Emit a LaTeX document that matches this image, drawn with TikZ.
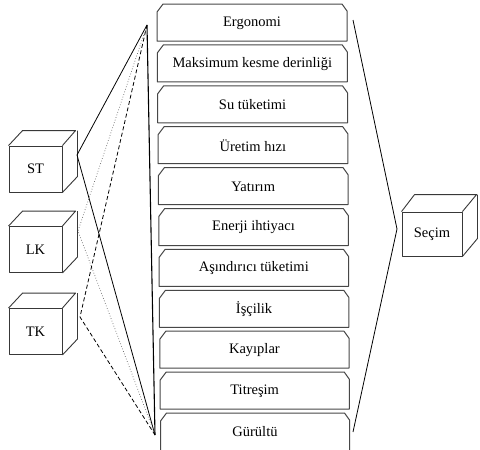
\documentclass[tikz,border=0pt]{standalone}
\usepackage{fontspec}
\setmainfont{Liberation Serif}
\begin{document}
\begin{tikzpicture}[x=1pt,y=-1pt,
  lbl/.style={font=\fontsize{14.5}{17}\selectfont, inner sep=0pt},
  boxline/.style={draw=black!72, line width=1pt, line join=round},
  cubeline/.style={draw=black!78, line width=0.9pt, line join=round},
  front/.style={lbl, cubeline, minimum width=53pt, minimum height=46pt},
  fan/.style={draw=black, line width=0.8pt},
  fandot/.style={draw=black!60, line width=0.7pt, dotted},
  fandash/.style={draw=black, line width=0.8pt, dash pattern=on 4pt off 2.5pt}]
\clip (0,0) rectangle (480,450);
\fill[white] (0,0) rectangle (480,450);

% criteria column: boxes with bevelled upper corners
\foreach \t [count=\k from 0] in {Ergonomi, Maksimum kesme derinliği, Su tüketimi,
  Üretim hızı, Yatırım, Enerji ihtiyacı, Aşındırıcı tüketimi, İşçilik,
  Kayıplar, Titreşim, Gürültü} {
  \pgfmathsetmacro\btop{4+40.9*\k}
  \pgfmathsetmacro\bl{157+0.35*\k}
  \pgfmathsetmacro\br{347+0.25*\k}
  \pgfmathsetmacro\bh{\k==10 ? 60 : 37}
  \node[lbl] (c\k) at ({(\bl+\br)/2},{\btop+19}) {\t};
  \draw[boxline] (\bl,\btop+\bh) -- (\bl,\btop+8) -- (\bl+6,\btop) -- (\br-5,\btop)
    -- (\br,\btop+7) -- (\br,\btop+\bh) -- cycle;
}

% alternatives (cubes) on the left and the decision cube on the right
\node[front] (st) at (35.5,169) {ST};
\node[front] (lk) at (35.5,249.5) {LK};
\node[front] (tk) at (35.5,331.5) {TK};
\node[front, minimum width=60pt, minimum height=44pt] (sec) at (432,234) {Seçim};
\foreach \c in {st,lk,tk} {
  \draw[cubeline] (\c.north west) -- ++(14,-15) -- ++(53,0) -- (\c.north east);
  \draw[cubeline] (\c.north east) ++(15,-15) -- ++(0,46) -- (\c.south east);
}
\draw[cubeline] (sec.north west) -- ++(13,-17) -- ++(62,0) -- (sec.north east);
\draw[cubeline] (sec.north east) ++(15,-17) -- ++(0,44) -- (sec.south east);

% attachment points and apexes of the fans
\coordinate (stp) at (77,155);
\coordinate (lkp) at (78,231);
\coordinate (tkp) at (80,317);
\coordinate (ta) at (147,25);
\coordinate (ba) at (155,435);
\coordinate (rt) at (353,20);
\coordinate (rb) at (353,432);
\coordinate (ra) at (397,229);

\draw[fan, line width=1.1pt] (ta) -- (ba);
\draw[fan] (ta) -- (stp) -- (ba);
\draw[fandot] (ta) -- (lkp) -- (ba);
\draw[fandash] (ta) -- (tkp) -- (ba);
\draw[fan, line join=miter] (rt) -- (ra) -- (rb);
\end{tikzpicture}
\end{document}
